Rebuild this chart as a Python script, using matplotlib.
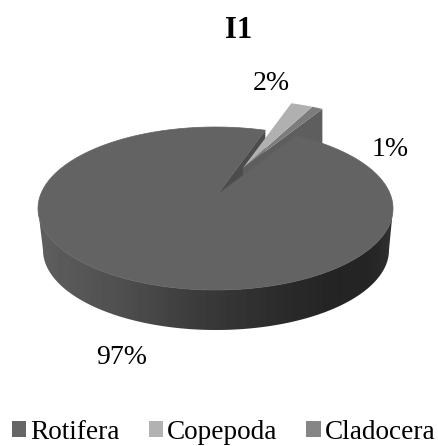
import numpy as np
import matplotlib
matplotlib.use("Agg")
import matplotlib.pyplot as plt
from matplotlib.patches import Polygon, Patch

categories = ["Rotifera", "Copepoda", "Cladocera"]
values = [97, 2, 1]
pct_labels = ["97%", "2%", "1%"]
title = "I1"

plt.rcParams["font.family"] = ["Liberation Serif", "DejaVu Serif"]
W, H = 438, 446
fig = plt.figure(figsize=(W / 100, H / 100), dpi=100)
ax = fig.add_axes([0, 0, 1, 1])
ax.set_xlim(0, W)
ax.set_ylim(H, 0)
ax.axis("off")

cx, cy, rx, ry = 215.5, 208.5, 177.5, 81.5
bcx, bcy, brx, bry = 216, 250, 173, 80
start = 62.9
apex_main = np.array([217.0, 195.0])
offset = np.array([26.0, -27.0])
depth = 40.0

top_col = {"Rotifera": "#636363", "Copepoda": "#b0b0b0", "Cladocera": "#7c7c7c"}
leg_col = {"Rotifera": "#666666", "Copepoda": "#b2b2b2", "Cladocera": "#868686"}
wall_col = {"Rotifera": "#4a4a4a", "Copepoda": "#8c8c8c", "Cladocera": "#5e5e5e"}

def ell(t_deg, c=(cx, cy), r=(rx, ry)):
    t = np.radians(t_deg)
    return np.column_stack([c[0] + r[0] * np.cos(t), c[1] - r[1] * np.sin(t)])

# slices run clockwise from the start angle
angles = {}
a = start
total = sum(values)
for name, v in zip(categories, values):
    b = a - 360 * v / total
    angles[name] = (a, b)
    a = b

# outer band of the main slice, with a left-to-right gradient
band = np.vstack([ell(np.linspace(180, 360, 200)),
                  ell(np.linspace(360, 180, 200), (bcx, bcy), (brx, bry))])
band_patch = Polygon(band, closed=True, fc="none", ec="none")
ax.add_patch(band_patch)
grad_x = np.array([38, 120, 200, 280, 340, 375, 394], float)
grad_v = np.array([0.37, 0.31, 0.23, 0.17, 0.14, 0.15, 0.20])
g = np.interp(np.linspace(38, 394, 356), grad_x, grad_v)[None, :]
im = ax.imshow(g, cmap="gray", vmin=0, vmax=1, extent=(38, 394, 340, 200),
               aspect="auto", zorder=1)
im.set_clip_path(band_patch)
ax.set_xlim(0, W)
ax.set_ylim(H, 0)

# cut face of the main slice seen through the notch
a0, a1 = angles["Rotifera"]
p_left = ell(a1)[0]
ax.add_patch(Polygon([apex_main, p_left, p_left + [0, depth], apex_main + [0, depth]],
                     fc="#4c4c4c", ec="none", zorder=2))

# the two exploded slices
for name, z in (("Cladocera", 3), ("Copepoda", 4)):
    s, e = angles[name]
    c2 = (cx + offset[0], cy + offset[1])
    apex = apex_main + offset
    arc = ell(np.linspace(s, e, 12), c2)
    if name == "Cladocera":
        ax.add_patch(Polygon([apex, arc[-1], arc[-1] + [0, depth], apex + [0, depth]],
                             fc=wall_col[name], ec="none", zorder=z))
    ax.add_patch(Polygon(np.vstack([apex, arc]), fc=top_col[name], ec="none", zorder=z))

# top face of the main slice
t = np.linspace(a0, a0 - 360 * values[0] / total, 400)
ax.add_patch(Polygon(np.vstack([apex_main, ell(t)]), fc=top_col["Rotifera"],
                     ec=top_col["Rotifera"], lw=0.5, zorder=5))

fs = 20
ax.text(239, 30, title, ha="center", va="center", fontsize=22, fontweight="bold", color="black")
for s, (x, y) in zip(pct_labels, [(122, 357), (271, 84), (390, 150)]):
    ax.text(x, y, s, ha="center", va="center", fontsize=fs, color="black")

handles = [Patch(fc=leg_col[n], ec="none", label=n) for n in categories]
ax.legend(handles=handles, ncol=3, loc="lower left", frameon=False,
          bbox_to_anchor=(12 / W, 1 / H), borderpad=0, borderaxespad=0,
          fontsize=19.6, handlelength=0.52, handleheight=0.52,
          handletextpad=0.14, columnspacing=1.08)

fig.savefig("out.png", dpi=100, facecolor="white")
